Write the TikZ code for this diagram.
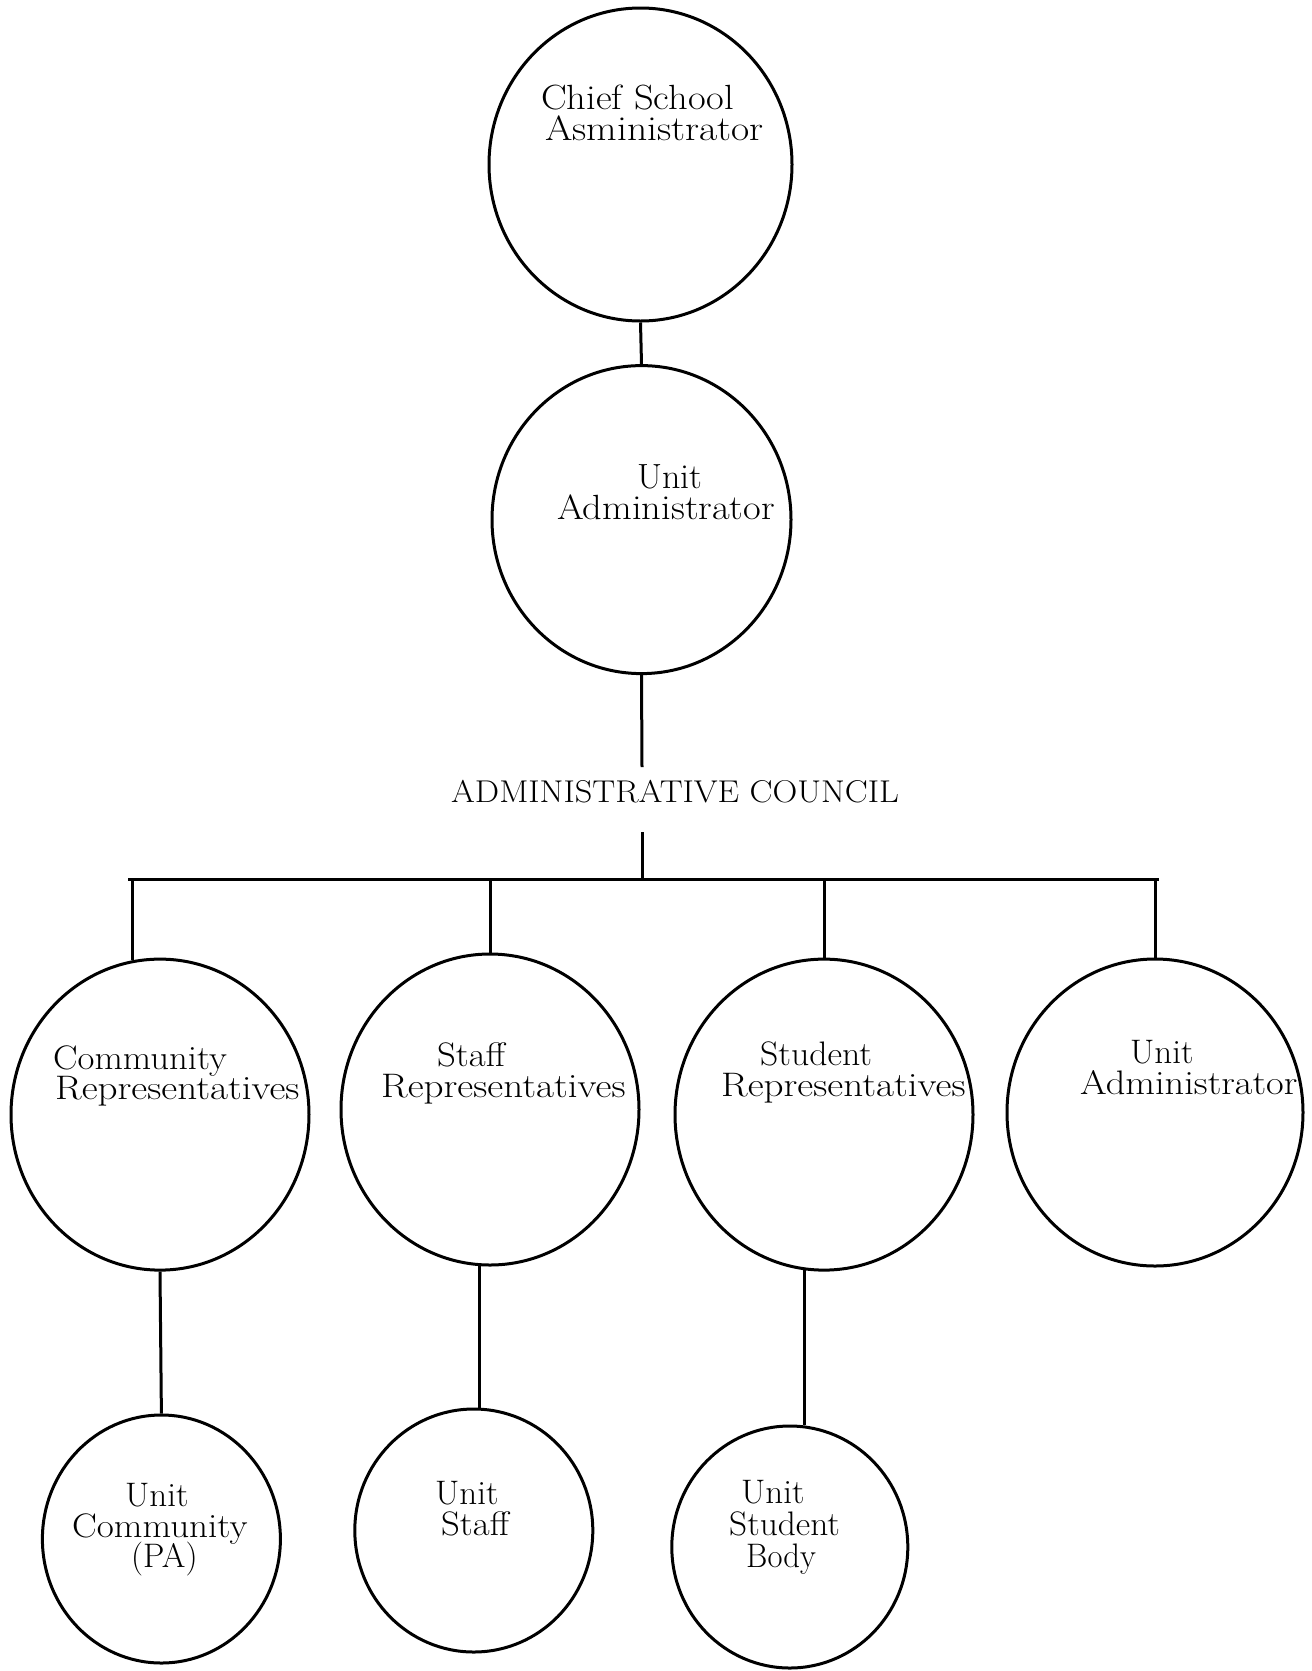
\documentclass[tikz,border=0pt]{standalone}
\usetikzlibrary{shapes.geometric}
\newcommand\hsc[2]{\scalebox{#1}[1]{#2}}
\begin{document}
\begin{tikzpicture}[x=1pt,y=-1pt,
  ell/.style 2 args={draw, ellipse, line width=3pt, inner sep=0pt, minimum width=#1, minimum height=#2},
  conn/.style={line width=3pt},
  txtA/.style={font=\fontsize{35}{35}\selectfont, anchor=base west, inner sep=0pt, text depth=0pt},
  txtB/.style={font=\fontsize{34}{34}\selectfont, anchor=base west, inner sep=0pt, text depth=0pt},
  txtC/.style={font=\fontsize{31.5}{31.5}\selectfont, anchor=base west, inner sep=0pt, text depth=0pt}]
\fill[white] (0,0) rectangle (1312,1671);
\useasboundingbox (0,0) rectangle (1312,1671);

% circles
\node[ell={303pt}{313pt}] (c1) at (640.5,164.5) {};
\node[ell={299pt}{308pt}] (c2) at (641.5,519.6) {};
\node[ell={298pt}{311pt}] (r1) at (160,1114.6) {};
\node[ell={298pt}{311pt}] (r2) at (490,1109.5) {};
\node[ell={298pt}{311pt}] (r3) at (824,1114.6) {};
\node[ell={296pt}{307pt}] (r4) at (1155,1112.5) {};
\node[ell={238pt}{248pt}] (b1) at (161.4,1539) {};
\node[ell={238pt}{243pt}] (b2) at (473.8,1530.5) {};
\node[ell={236pt}{242pt}] (b3) at (789.8,1547) {};

% texts
\node[txtA] (t1a) at (541,109) {\hsc{1.10}{Chief School}};
\node[txtA] (t1b) at (545,140) {\hsc{1.13}{Asministrator}};
\node[txtA] (t2a) at (637,488) {\hsc{1.03}{Unit}};
\node[txtA] (t2b) at (557,519) {\hsc{1.10}{Administrator}};
\node[txtC] (council) at (451,802) {\hsc{1.09}{ADMINISTRATIVE COUNCIL}};
\node[txtB] (r1a) at (53,1069) {\hsc{1.08}{Community}};
\node[txtB] (r1b) at (55,1099) {\hsc{1.15}{Representatives}};
\node[txtB] (r2a) at (437,1066) {\hsc{1.08}{Staff}};
\node[txtB] (r2b) at (381,1097) {\hsc{1.15}{Representatives}};
\node[txtB] (r3a) at (760,1065) {\hsc{1.05}{Student}};
\node[txtB] (r3b) at (721,1096) {\hsc{1.15}{Representatives}};
\node[txtB] (r4a) at (1130,1063) {\hsc{1.03}{Unit}};
\node[txtB] (r4b) at (1080,1094) {\hsc{1.13}{Administrator}};
\node[txtB] (b1a) at (125,1506) {\hsc{1.03}{Unit}};
\node[txtB] (b1b) at (72,1537) {\hsc{1.09}{Community}};
\node[txtB] (b1c) at (131,1567) {(PA)};
\node[txtB] (b2a) at (435,1504) {\hsc{1.03}{Unit}};
\node[txtB] (b2b) at (441,1535) {\hsc{1.08}{Staff}};
\node[txtB] (b3a) at (741,1503) {\hsc{1.03}{Unit}};
\node[txtB] (b3b) at (729,1535) {\hsc{1.04}{Student}};
\node[txtB] (b3c) at (746,1567) {\hsc{0.96}{Body}};

% connectors
\coordinate (ca) at (642,767);
\coordinate (cb) at (642,832);
\coordinate (bar) at (642,879);
\coordinate (barL) at (128,879);
\coordinate (barR) at (1159,879);
\draw[conn] (c1.south) -- (c2.north);
\draw[conn] (c2.south) -- (ca);
\draw[conn] (cb) -- (bar);
\draw[conn] (barL) -- (barR);
\draw[conn] (r1.100 |- barL) -- (r1.100);
\draw[conn] (r2.north |- barL) -- (r2.north);
\draw[conn] (r3.north |- barL) -- (r3.north);
\draw[conn] (r4.north |- barL) -- (r4.north);
\draw[conn] (r1.south) -- (b1.north);
\draw[conn] (r2.266) -- (r2.266 |- b2.north);
\draw[conn] (r3.263) -- (r3.263 |- b3.north);
\end{tikzpicture}
\end{document}
